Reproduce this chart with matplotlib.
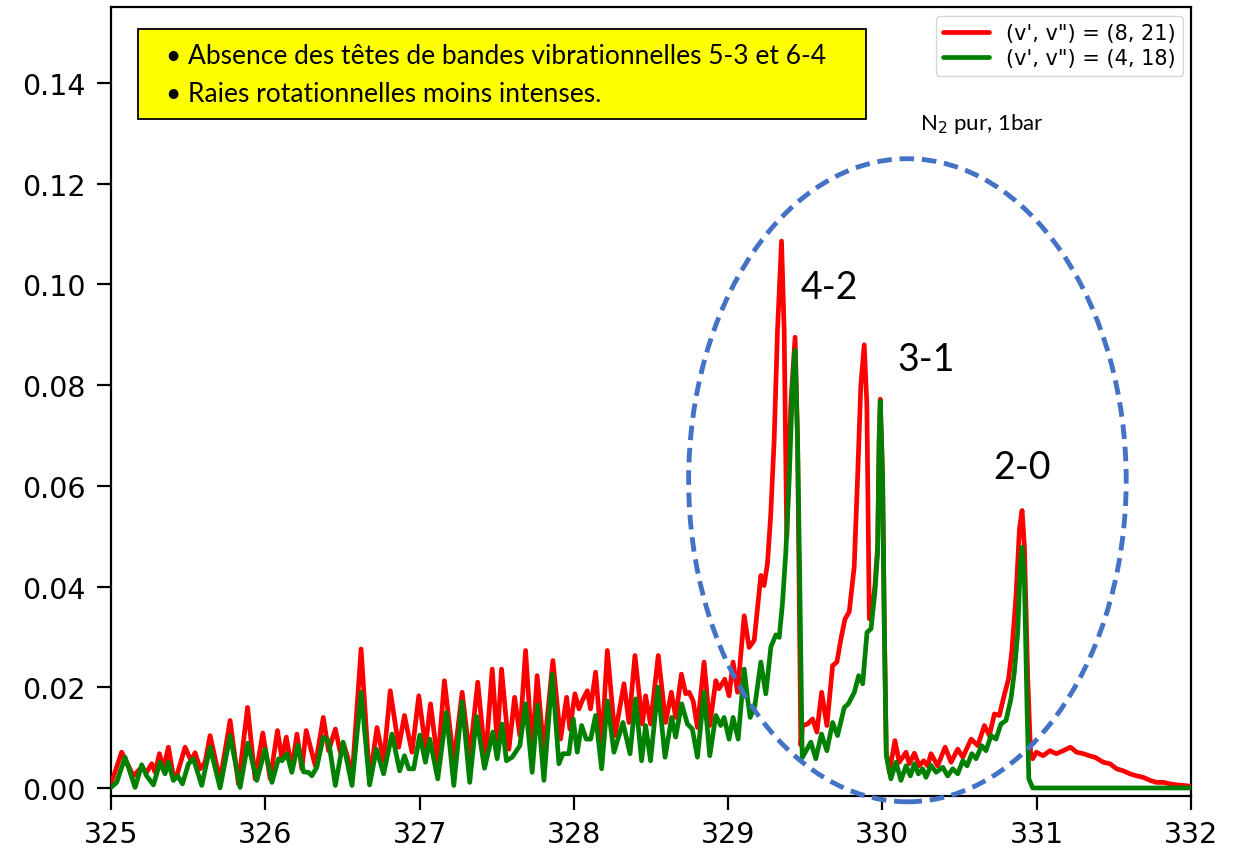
import matplotlib
matplotlib.use("Agg")
import matplotlib.pyplot as plt
from matplotlib.patches import Ellipse, Rectangle

# ---------------- data ----------------
red_x = [325.000, 325.069, 325.145, 325.199, 325.231, 325.264, 325.286, 325.314, 325.340, 325.372,
         325.404, 325.426, 325.480, 325.519, 325.545, 325.578, 325.610, 325.642, 325.707, 325.772,
         325.826, 325.885, 325.934, 325.984, 326.032, 326.079, 326.108, 326.136, 326.172, 326.205,
         326.237, 326.265, 326.324, 326.376, 326.410, 326.454, 326.486, 326.508, 326.534, 326.562,
         326.621, 326.676, 326.724, 326.767, 326.810, 326.865, 326.902, 326.951, 326.995, 327.038,
         327.071, 327.118, 327.161, 327.222, 327.276, 327.325, 327.377, 327.427, 327.471, 327.503,
         327.531, 327.579, 327.616, 327.650, 327.687, 327.730, 327.762, 327.806, 327.864, 327.914,
         327.953, 327.974, 328.007, 328.033, 328.054, 328.087, 328.108, 328.141, 328.180, 328.217,
         328.266, 328.325, 328.357, 328.396, 328.444, 328.465, 328.497, 328.547, 328.595, 328.632,
         328.660, 328.697, 328.725, 328.747, 328.773, 328.801, 328.844, 328.881, 328.920, 328.941,
         328.978, 329.006, 329.032, 329.061, 329.104, 329.136, 329.169, 329.212, 329.233, 329.255,
         329.276, 329.298, 329.320, 329.346, 329.363, 329.380, 329.406, 329.434, 329.450, 329.471,
         329.482, 329.515, 329.547, 329.575, 329.606, 329.640, 329.677, 329.705, 329.731, 329.757,
         329.785, 329.817, 329.839, 329.860, 329.882, 329.899, 329.915, 329.936, 329.951, 329.969,
         329.979, 329.986, 330.001, 330.012, 330.025, 330.045, 330.081, 330.109, 330.153, 330.174,
         330.207, 330.239, 330.267, 330.293, 330.315, 330.358, 330.406, 330.445, 330.488, 330.521,
         330.575, 330.618, 330.661, 330.693, 330.726, 330.758, 330.786, 330.817, 330.838, 330.866,
         330.888, 330.905, 330.920, 330.942, 330.960, 330.974, 330.998, 331.041, 331.085, 331.128,
         331.172, 331.219, 331.258, 331.302, 331.341, 331.377, 331.432, 331.475, 331.518, 331.561,
         331.605, 331.648, 331.691, 331.735, 331.778, 331.822, 331.865, 331.908, 331.952, 332.000]
red_y = [0.0008, 0.0071, 0.0024, 0.0041, 0.0031, 0.0048, 0.0031, 0.0068, 0.0038, 0.0081,
         0.0024, 0.0024, 0.0081, 0.0054, 0.0070, 0.0038, 0.0051, 0.0104, 0.0015, 0.0134,
         0.0008, 0.0160, 0.0018, 0.0109, 0.0018, 0.0114, 0.0058, 0.0101, 0.0038, 0.0107,
         0.0038, 0.0114, 0.0044, 0.0140, 0.0074, 0.0117, 0.0071, 0.0087, 0.0061, 0.0018,
         0.0276, 0.0015, 0.0120, 0.0054, 0.0193, 0.0081, 0.0144, 0.0071, 0.0183, 0.0081,
         0.0167, 0.0051, 0.0213, 0.0051, 0.0190, 0.0061, 0.0210, 0.0054, 0.0236, 0.0091,
         0.0236, 0.0077, 0.0180, 0.0104, 0.0273, 0.0071, 0.0223, 0.0071, 0.0253, 0.0097,
         0.0180, 0.0117, 0.0187, 0.0157, 0.0173, 0.0193, 0.0157, 0.0230, 0.0084, 0.0273,
         0.0104, 0.0207, 0.0130, 0.0263, 0.0127, 0.0183, 0.0127, 0.0263, 0.0130, 0.0190,
         0.0140, 0.0226, 0.0187, 0.0190, 0.0173, 0.0120, 0.0250, 0.0124, 0.0213, 0.0197,
         0.0216, 0.0183, 0.0250, 0.0190, 0.0342, 0.0279, 0.0293, 0.0422, 0.0402, 0.0446,
         0.0542, 0.0689, 0.0909, 0.1086, 0.0909, 0.0497, 0.0762, 0.0895, 0.0689, 0.0085,
         0.0124, 0.0127, 0.0137, 0.0111, 0.0190, 0.0124, 0.0243, 0.0250, 0.0296, 0.0335,
         0.0350, 0.0439, 0.0616, 0.0799, 0.0880, 0.0762, 0.0336, 0.0358, 0.0400, 0.0480,
         0.0700, 0.0772, 0.0620, 0.0330, 0.0070, 0.0031, 0.0094, 0.0051, 0.0071, 0.0048,
         0.0069, 0.0044, 0.0054, 0.0044, 0.0068, 0.0044, 0.0081, 0.0051, 0.0077, 0.0061,
         0.0097, 0.0084, 0.0124, 0.0104, 0.0147, 0.0144, 0.0180, 0.0216, 0.0269, 0.0382,
         0.0514, 0.0551, 0.0481, 0.0216, 0.0071, 0.0058, 0.0071, 0.0064, 0.0074, 0.0068,
         0.0074, 0.0081, 0.0071, 0.0068, 0.0064, 0.0061, 0.0051, 0.0048, 0.0038, 0.0034,
         0.0028, 0.0024, 0.0021, 0.0015, 0.0011, 0.0011, 0.0008, 0.0006, 0.0005, 0.0003]

green_x = [325.000, 325.037, 325.091, 325.156, 325.199, 325.231, 325.275, 325.318, 325.350, 325.372,
           325.404, 325.433, 325.463, 325.502, 325.534, 325.588, 325.642, 325.707, 325.772, 325.837,
           325.887, 325.945, 325.999, 326.043, 326.086, 326.108, 326.140, 326.172, 326.211, 326.248,
           326.280, 326.302, 326.334, 326.376, 326.410, 326.454, 326.504, 326.562, 326.621, 326.676,
           326.720, 326.767, 326.821, 326.871, 326.902, 326.930, 326.962, 327.001, 327.038, 327.066,
           327.118, 327.174, 327.222, 327.276, 327.325, 327.369, 327.421, 327.475, 327.503, 327.535,
           327.563, 327.600, 327.650, 327.687, 327.730, 327.765, 327.806, 327.860, 327.903, 327.929,
           327.968, 327.996, 328.022, 328.050, 328.080, 328.109, 328.141, 328.180, 328.217, 328.260,
           328.318, 328.364, 328.400, 328.439, 328.465, 328.497, 328.545, 328.591, 328.634, 328.660,
           328.699, 328.736, 328.768, 328.801, 328.844, 328.881, 328.920, 328.952, 328.974, 329.006,
           329.032, 329.065, 329.104, 329.126, 329.143, 329.173, 329.212, 329.244, 329.277, 329.309,
           329.331, 329.352, 329.374, 329.396, 329.417, 329.434, 329.450, 329.465, 329.480, 329.536,
           329.568, 329.605, 329.640, 329.677, 329.709, 329.753, 329.779, 329.818, 329.846, 329.872,
           329.900, 329.926, 329.951, 329.969, 329.979, 329.986, 330.001, 330.012, 330.025, 330.055,
           330.088, 330.120, 330.153, 330.181, 330.207, 330.233, 330.261, 330.282, 330.315, 330.348,
           330.391, 330.423, 330.456, 330.488, 330.521, 330.549, 330.579, 330.607, 330.643, 330.671,
           330.704, 330.736, 330.768, 330.801, 330.833, 330.855, 330.877, 330.894, 330.905, 330.920,
           330.938, 330.949, 330.974, 332.000]
green_y = [0.0001, 0.0011, 0.0061, 0.0001, 0.0046, 0.0024, 0.0006, 0.0051, 0.0028, 0.0051,
           0.0015, 0.0024, 0.0008, 0.0048, 0.0058, 0.0005, 0.0081, 0.0000, 0.0104, 0.0001,
           0.0089, 0.0015, 0.0077, 0.0011, 0.0058, 0.0054, 0.0068, 0.0031, 0.0085, 0.0032,
           0.0031, 0.0024, 0.0041, 0.0101, 0.0094, 0.0005, 0.0091, 0.0005, 0.0190, 0.0006,
           0.0077, 0.0028, 0.0107, 0.0034, 0.0064, 0.0038, 0.0038, 0.0105, 0.0051, 0.0097,
           0.0018, 0.0150, 0.0005, 0.0171, 0.0011, 0.0142, 0.0039, 0.0111, 0.0058, 0.0127,
           0.0054, 0.0061, 0.0084, 0.0167, 0.0031, 0.0165, 0.0015, 0.0226, 0.0048, 0.0068,
           0.0068, 0.0137, 0.0071, 0.0124, 0.0097, 0.0097, 0.0144, 0.0038, 0.0173, 0.0071,
           0.0130, 0.0068, 0.0177, 0.0054, 0.0124, 0.0054, 0.0200, 0.0061, 0.0140, 0.0101,
           0.0167, 0.0127, 0.0117, 0.0061, 0.0190, 0.0064, 0.0144, 0.0124, 0.0140, 0.0097,
           0.0140, 0.0097, 0.0236, 0.0177, 0.0140, 0.0163, 0.0250, 0.0187, 0.0280, 0.0304,
           0.0299, 0.0366, 0.0469, 0.0616, 0.0799, 0.0869, 0.0689, 0.0395, 0.0060, 0.0091,
           0.0058, 0.0107, 0.0074, 0.0130, 0.0104, 0.0160, 0.0167, 0.0190, 0.0223, 0.0207,
           0.0309, 0.0316, 0.0389, 0.0469, 0.0689, 0.0768, 0.0616, 0.0322, 0.0064, 0.0018,
           0.0051, 0.0015, 0.0044, 0.0024, 0.0048, 0.0028, 0.0038, 0.0021, 0.0045, 0.0031,
           0.0041, 0.0024, 0.0038, 0.0028, 0.0054, 0.0044, 0.0068, 0.0058, 0.0084, 0.0074,
           0.0104, 0.0097, 0.0127, 0.0134, 0.0177, 0.0230, 0.0309, 0.0448, 0.0478, 0.0415,
           0.0150, 0.0018, 0.0000, 0.0000]

series_labels = ["(v', v\") = (8, 21)", "(v', v\") = (4, 18)"]
band_labels = ["4-2", "3-1", "2-0"]
band_label_x = [329.47, 330.10, 330.72]
band_label_y = [0.0995, 0.0852, 0.0637]
box_lines = ["\u2022 Absence des têtes de bandes vibrationnelles 5-3 et 6-4",
             "\u2022 Raies rotationnelles moins intenses."]
xticks = [325, 326, 327, 328, 329, 330, 331, 332]
yticks = [0.00, 0.02, 0.04, 0.06, 0.08, 0.10, 0.12, 0.14]

# ---------------- figure ----------------
W, H = 1234, 853
fig = plt.figure(figsize=(W / 100, H / 100), dpi=100)
ax = fig.add_axes([111 / W, 1 - 796.5 / H, (1191 - 111) / W, (796.5 - 8.4) / H])

ax.plot(red_x, red_y, color="red", lw=3.4, label=series_labels[0], zorder=3,
        solid_joinstyle="round", solid_capstyle="round")
ax.plot(green_x, green_y, color="green", lw=3.4, label=series_labels[1], zorder=4,
        solid_joinstyle="round", solid_capstyle="round")

ax.set_xlim(325, 332)
ax.set_ylim(-0.0015, 0.155)
ax.set_xticks(xticks)
ax.set_yticks(yticks)
ax.set_yticklabels([f"{v:.2f}" for v in yticks])
ax.tick_params(axis="both", labelsize=20.5, length=10, width=1.6, pad=8)
for s in ax.spines.values():
    s.set_linewidth(1.6)

leg = ax.legend(loc="upper right", fontsize=15, labelspacing=0.25, borderpad=0.35,
                handlelength=2.2, handletextpad=0.8, fancybox=True, framealpha=0.8,
                borderaxespad=0.4)

# ellipse
ell = Ellipse((330.162, 0.0611), 2.836, 0.1277, fill=False, edgecolor="#4472C4",
              lw=3.5, linestyle=(0, (3, 1.6)), clip_on=False, zorder=5)
ax.add_patch(ell)

# band labels
for t, bx, by in zip(band_labels, band_label_x, band_label_y):
    ax.text(bx, by, t, fontsize=27, family="Lato", ha="left", va="center", color="black")

# N2 label
fig.text(920 / W, 1 - 124 / H, "N$_2$ pur, 1bar", fontsize=16, family="Lato",
         ha="left", va="center")

# yellow box
fig.patches.append(Rectangle((138 / W, 1 - 120 / H), (866 - 138) / W, 90 / H,
                             transform=fig.transFigure, facecolor="#FFFF00",
                             edgecolor="black", lw=1.3, zorder=10))
fig.text(166 / W, 1 - 56 / H, box_lines[0], fontsize=19, family="Lato",
         ha="left", va="center", zorder=11)
fig.text(166 / W, 1 - 94 / H, box_lines[1], fontsize=19, family="Lato",
         ha="left", va="center", zorder=11)

fig.savefig("out.png", dpi=100)
